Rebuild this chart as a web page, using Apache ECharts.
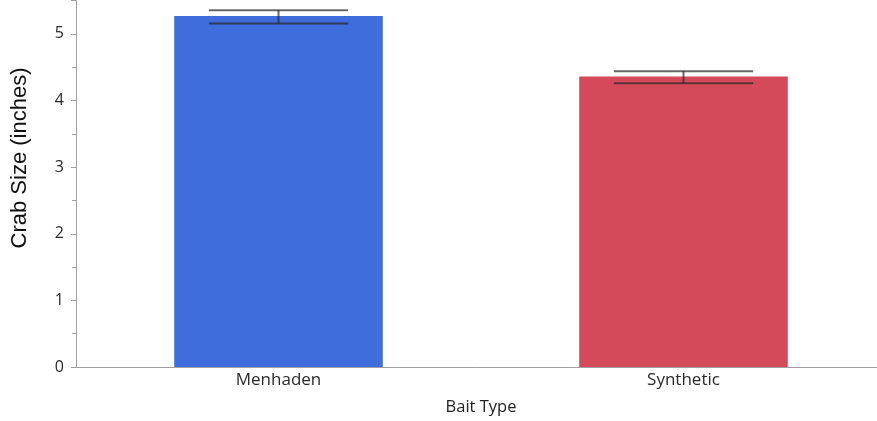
<!DOCTYPE html>
<html>
<head>
<meta charset="utf-8">
<script src="https://cdn.jsdelivr.net/npm/echarts@6/dist/echarts.min.js"></script>
<style>
  html, body { margin: 0; padding: 0; background: #fff; }
  #chart { width: 877px; height: 421px; }
</style>
</head>
<body>
<div id="chart"></div>
<script>
// Mean crab size by bait type, with error bar bounds
const categories = ['Menhaden', 'Synthetic'];
const meanSize = [5.27, 4.36];
const errLow = [5.155, 4.26];
const errHigh = [5.355, 4.44];
const barColors = ['#3f6ddc', '#d44a5a'];

const chart = echarts.init(document.getElementById('chart'));

const tickFont = { fontFamily: 'Open Sans', fontSize: 16, color: '#2a2a2a' };

chart.setOption({
  animation: false,
  grid: {
    left: 76, top: 0.6, bottom: 54, width: 810,
    containLabel: false, outerBoundsMode: 'none'
  },
  xAxis: {
    type: 'category',
    data: categories,
    name: 'Bait Type',
    nameLocation: 'middle',
    nameGap: 32,
    nameTextStyle: { fontFamily: 'Open Sans', fontSize: 16.5, color: '#222' },
    axisLine: { lineStyle: { color: '#a0a0a0', width: 1 } },
    axisTick: { show: false },
    axisLabel: Object.assign({}, tickFont, { margin: 5, fontSize: 17 })
  },
  yAxis: {
    type: 'value',
    min: 0,
    max: 5.5,
    interval: 1,
    splitLine: { show: false },
    axisLine: { show: true, lineStyle: { color: '#a0a0a0', width: 1 } },
    axisTick: { show: true, length: 5, lineStyle: { color: '#a0a0a0' } },
    minorTick: { show: true, splitNumber: 2, length: 4, lineStyle: { color: '#a0a0a0' } },
    axisLabel: Object.assign({ margin: 12, showMaxLabel: false }, tickFont)
  },
  graphic: [{
    type: 'text',
    x: 20,
    y: 158,
    rotation: Math.PI / 2,
    style: {
      text: 'Crab Size (inches)',
      fontFamily: 'Liberation Sans',
      fontSize: 22,
      fill: '#111',
      textAlign: 'center',
      textVerticalAlign: 'middle'
    }
  }],
  series: [
    {
      type: 'bar',
      barWidth: '51.5%',
      data: meanSize.map((v, i) => ({ value: v, itemStyle: { color: barColors[i] } }))
    },
    {
      type: 'custom',
      z: 10,
      data: categories.map((c, i) => [i, errLow[i], errHigh[i]]),
      renderItem: function (params, api) {
        const lo = api.coord([api.value(0), api.value(1)]);
        const hi = api.coord([api.value(0), api.value(2)]);
        const half = api.size([1, 0])[0] * 0.172;
        const style = { stroke: 'rgba(40,40,40,0.7)', lineWidth: 2 };
        return {
          type: 'group',
          children: [
            { type: 'line', shape: { x1: hi[0], y1: hi[1], x2: lo[0], y2: lo[1] }, style: style },
            { type: 'line', shape: { x1: hi[0] - half, y1: hi[1], x2: hi[0] + half, y2: hi[1] }, style: style },
            { type: 'line', shape: { x1: lo[0] - half, y1: lo[1], x2: lo[0] + half, y2: lo[1] }, style: style }
          ]
        };
      }
    }
  ]
});
</script>
</body>
</html>
